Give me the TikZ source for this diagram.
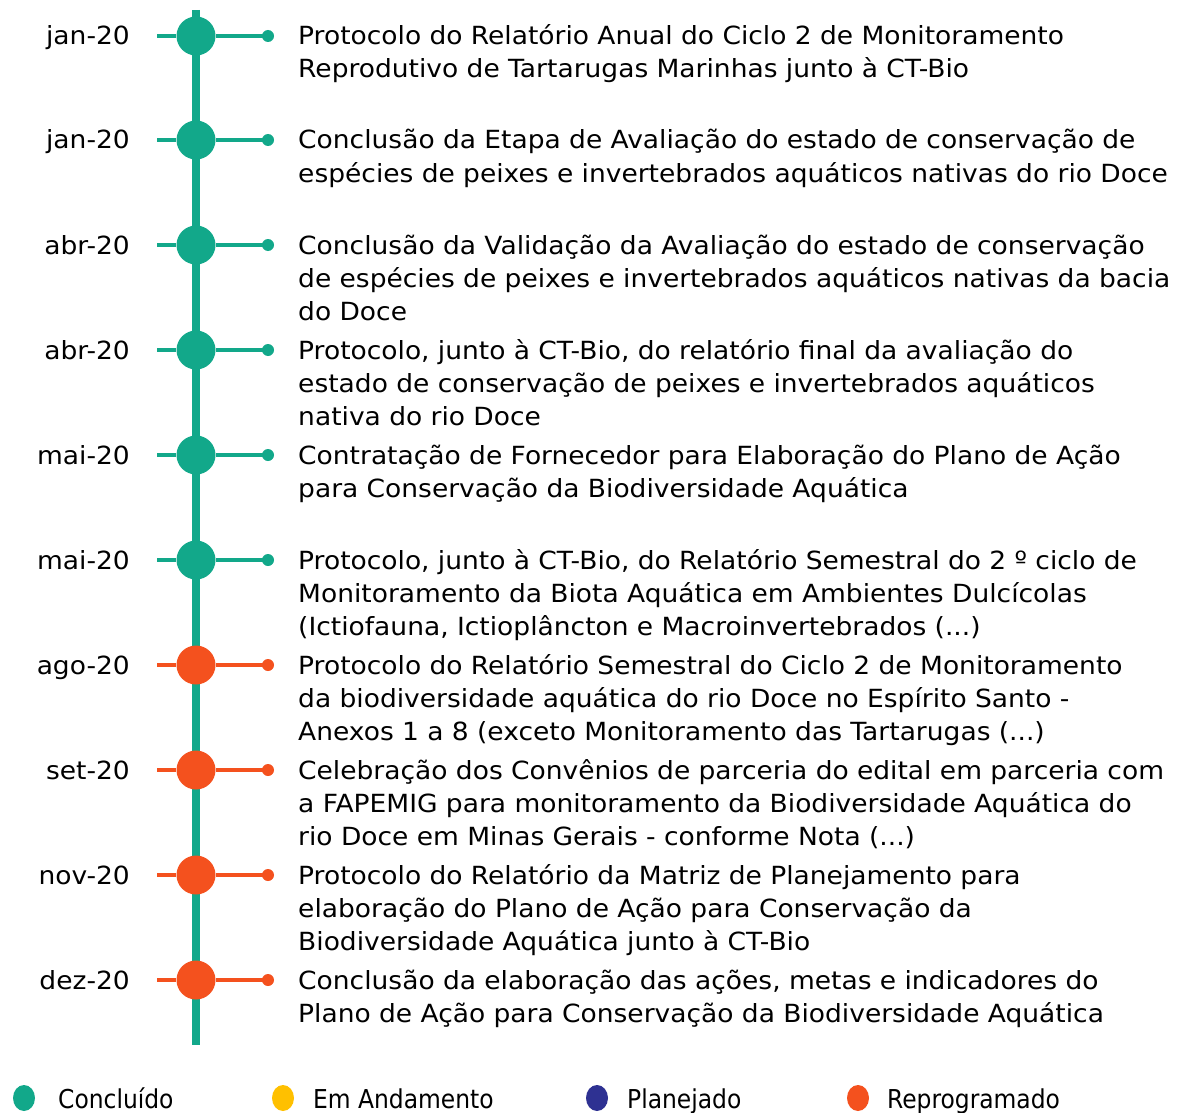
\documentclass[tikz,border=0pt]{standalone}
\usepackage{fontspec}
\setmainfont{DejaVu Sans}
\newfontfamily\widef[FakeStretch=1.06]{DejaVu Sans}
\newfontfamily\condf{DejaVu Sans Condensed}
\definecolor{teal1}{HTML}{12A88A}
\definecolor{orng}{HTML}{F4511E}
\definecolor{yel}{HTML}{FFC000}
\definecolor{navy}{HTML}{2E3192}
\usetikzlibrary{shapes.geometric}
\tikzset{
  desc/.style={anchor=base west, inner sep=0pt, text width=900pt, align=left,
    font=\widef\fontsize{25}{33}\selectfont},
  datelbl/.style={anchor=base east, inner sep=0pt, font=\widef\fontsize{25}{33}\selectfont},
  bigdot/.style={circle, fill=#1, minimum size=39pt, inner sep=0pt},
  smalldot/.style={circle, fill=#1, minimum size=12pt, inner sep=0pt},
  stem/.style={line width=4pt, draw=#1},
  legdot/.style={ellipse, fill=#1, minimum width=22pt, minimum height=26pt, inner sep=0pt},
  legtxt/.style={anchor=base west, inner sep=0pt, font=\condf\fontsize{26}{30}\selectfont},
}
\begin{document}
\begin{tikzpicture}[x=1pt,y=-1pt]
\useasboundingbox (0,0) rectangle (1180,1113);
\coordinate (top) at (196,10);
\coordinate (bot) at (196,1045);
\draw[teal1, line width=8.5pt] (top) -- (bot);
\foreach \i/\y/\c/\d in {1/36/teal1/jan-20, 2/140/teal1/jan-20, 3/245/teal1/abr-20, 4/350/teal1/abr-20, 5/455/teal1/mai-20, 6/560/teal1/mai-20, 7/665/orng/ago-20, 8/770/orng/set-20, 9/875/orng/nov-20, 10/980/orng/dez-20}{
  \coordinate (l\i) at (157,\y);
  \node[bigdot=\c] (b\i) at (196,\y) {};
  \node[smalldot=\c] (s\i) at (268,\y) {};
  \draw[stem=\c] (l\i) -- (b\i.west);
  \draw[stem=\c] (b\i.east) -- (s\i.center);
  \node[datelbl] (d\i) at (130,\y+9) {\d};
}
\node[desc] (t1) at (298,45) {Protocolo do Relatório Anual do Ciclo 2 de Monitoramento\\Reprodutivo de Tartarugas Marinhas junto à CT-Bio};
\node[desc] (t2) at (298,149) {Conclusão da Etapa de Avaliação do estado de conservação de\\espécies de peixes e invertebrados aquáticos nativas do rio Doce};
\node[desc] (t3) at (298,254) {Conclusão da Validação da Avaliação do estado de conservação\\de espécies de peixes e invertebrados aquáticos nativas da bacia\\do Doce};
\node[desc] (t4) at (298,359) {Protocolo, junto à CT-Bio, do relatório final da avaliação do\\estado de conservação de peixes e invertebrados aquáticos\\nativa do rio Doce};
\node[desc] (t5) at (298,464) {Contratação de Fornecedor para Elaboração do Plano de Ação\\para Conservação da Biodiversidade Aquática};
\node[desc] (t6) at (298,569) {Protocolo, junto à CT-Bio, do Relatório Semestral do 2 º ciclo de\\Monitoramento da Biota Aquática em Ambientes Dulcícolas\\(Ictiofauna, Ictioplâncton e Macroinvertebrados (...)};
\node[desc] (t7) at (298,674) {Protocolo do Relatório Semestral do Ciclo 2 de Monitoramento\\da biodiversidade aquática do rio Doce no Espírito Santo -\\Anexos 1 a 8 (exceto Monitoramento das Tartarugas (...)};
\node[desc] (t8) at (298,779) {Celebração dos Convênios de parceria do edital em parceria com\\a FAPEMIG para monitoramento da Biodiversidade Aquática do\\rio Doce em Minas Gerais - conforme Nota (...)};
\node[desc] (t9) at (298,884) {Protocolo do Relatório da Matriz de Planejamento para\\elaboração do Plano de Ação para Conservação da\\Biodiversidade Aquática junto à CT-Bio};
\node[desc] (t10) at (298,989) {Conclusão da elaboração das ações, metas e indicadores do\\Plano de Ação para Conservação da Biodiversidade Aquática};
% legend
\node[legdot=teal1] (g1) at (24,1098) {};
\node[legtxt] (h1) at (58,1108) {Concluído};
\node[legdot=yel] (g2) at (283,1098) {};
\node[legtxt] (h2) at (313,1108) {Em Andamento};
\node[legdot=navy] (g3) at (597,1098) {};
\node[legtxt] (h3) at (627,1108) {Planejado};
\node[legdot=orng] (g4) at (858,1098) {};
\node[legtxt] (h4) at (887,1108) {Reprogramado};
\end{tikzpicture}
\end{document}
